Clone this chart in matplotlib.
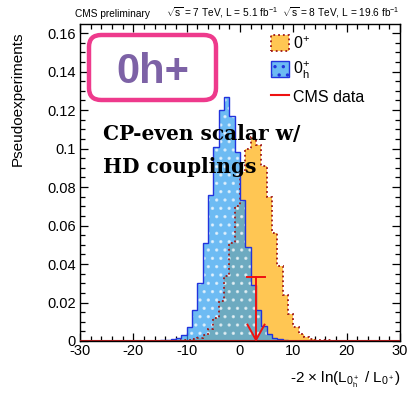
import numpy as np
import matplotlib
matplotlib.use("Agg")
import matplotlib.pyplot as plt
from matplotlib.patches import Patch, FancyBboxPatch
from matplotlib.lines import Line2D
from matplotlib.ticker import MultipleLocator, FixedLocator

plt.rcParams['font.family'] = ['Liberation Sans', 'DejaVu Sans']
plt.rcParams['axes.unicode_minus'] = False
plt.rcParams['mathtext.fontset'] = 'custom'
plt.rcParams['mathtext.rm'] = 'Liberation Sans'
plt.rcParams['mathtext.it'] = 'Liberation Sans'
plt.rcParams['hatch.linewidth'] = 1.2

# Datos
bin_w = 1.0
blue_start = -16.0   # 0+_h
blue_vals = [0.0002, 0.0003, 0.0005, 0.0008, 0.0015, 0.0033, 0.0075, 0.016,
             0.030, 0.051, 0.076, 0.101, 0.120, 0.127, 0.117, 0.098, 0.073,
             0.049, 0.029, 0.016, 0.008, 0.0038, 0.0017, 0.0008, 0.0004,
             0.0002, 0.0001]
orange_start = -13.0  # 0+
orange_vals = [0.0001, 0.0002, 0.0003, 0.0005, 0.0009, 0.0017, 0.0032, 0.0062,
               0.012, 0.021, 0.034, 0.051, 0.070, 0.088, 0.100, 0.106, 0.102,
               0.091, 0.075, 0.056, 0.039, 0.024, 0.014, 0.0075, 0.0038,
               0.0019, 0.0010, 0.0006, 0.0004, 0.0003, 0.0002, 0.0001]
data_obs = 3.0      # CMS data
data_top = 0.0333

x_range = (-30, 30)
y_max = 0.1647
y_ticks = [0, 0.02, 0.04, 0.06, 0.08, 0.1, 0.12, 0.14, 0.16]
y_ticklabels = ["0", "0.02", "0.04", "0.06", "0.08", "0.1", "0.12", "0.14", "0.16"]
x_ticks = [-30, -20, -10, 0, 10, 20, 30]
x_ticklabels = ["-30", "-20", "-10", "0", "10", "20", "30"]

c_orange = '#ffc653'
c_orange_edge = '#a01818'
c_blue = '#2f9fef'
c_blue_edge = '#2233dd'
c_red = '#ee1111'

W, H = 408, 394
def fx(x): return x / W
def fy(y): return 1 - y / H

fig = plt.figure(figsize=(W / 100, H / 100), dpi=100)
ax = fig.add_axes([fx(80), fy(341), (400 - 80) / W, (341 - 24) / H])

b_edges = blue_start + np.arange(len(blue_vals) + 1) * bin_w
o_edges = orange_start + np.arange(len(orange_vals) + 1) * bin_w

# 0+ (naranja)
ax.stairs(orange_vals, o_edges, fill=True, color=c_orange, lw=0, zorder=2)
ax.stairs(orange_vals, o_edges, color=c_orange_edge, lw=1.3, ls=':', zorder=4)
# 0+_h (azul, con puntos)
ax.stairs(blue_vals, b_edges, fill=True, color=c_blue, alpha=0.7, lw=0, zorder=3)
ax.stairs(blue_vals, b_edges, fill=True, facecolor='none', edgecolor='white',
          hatch='..', lw=0, alpha=0.6, zorder=3)
ax.stairs(blue_vals, b_edges, color=c_blue_edge, lw=1.0, zorder=4)
ax.axhline(0, color=c_orange_edge, lw=1.5, zorder=5)

# CMS data
ax.plot([data_obs, data_obs], [data_top, 0.0005], color=c_red, lw=1.4, zorder=6)
ax.plot([data_obs - 1.6, data_obs + 1.6], [data_top, data_top], color=c_red, lw=1.4, zorder=6)
ax.plot([data_obs - 1.6, data_obs, data_obs + 1.6], [0.0085, 0.0005, 0.0085],
        color=c_red, lw=1.4, zorder=6)

ax.set_xlim(*x_range)
ax.set_ylim(0, y_max)
ax.xaxis.set_major_locator(FixedLocator(x_ticks))
ax.set_xticklabels(x_ticklabels)
ax.xaxis.set_minor_locator(MultipleLocator(2))
ax.yaxis.set_major_locator(FixedLocator(y_ticks))
ax.set_yticklabels(y_ticklabels)
ax.yaxis.set_minor_locator(MultipleLocator(0.005))
ax.tick_params(which='both', direction='in', top=True, right=True, labelsize=10.5)
ax.tick_params(which='major', length=6, width=0.9)
ax.tick_params(which='minor', length=3.5, width=0.9)
ax.tick_params(axis='x', pad=2)
ax.tick_params(axis='y', pad=3)
for s in ax.spines.values():
    s.set_linewidth(1.0)

# Textos
fig.text(fx(18), fy(32), 'Pseudoexperiments', rotation=90, ha='center', va='top', fontsize=11)
fig.text(fx(401), fy(383), r'-2 $\times$ ln(L$_{0^+_h}$ / L$_{0^+}$)', ha='right',
         va='baseline', fontsize=11)
fig.text(fx(75), fy(17), 'CMS preliminary', fontsize=7.3, va='baseline')
fig.text(fx(400), fy(17), r'$\sqrt{s}$ = 7 TeV, L = 5.1 fb$^{-1}$  $\sqrt{s}$ = 8 TeV, L = 19.6 fb$^{-1}$',
         fontsize=7.3, va='baseline', ha='right')

handles = [Patch(facecolor=c_orange, edgecolor=c_orange_edge, ls=':', lw=1.3),
           Patch(facecolor='#6cbaf3', edgecolor=c_blue_edge, hatch='..', lw=1.0),
           Line2D([0], [0], color=c_red, lw=1.5)]
labels = [r'$0^{+}$', r'$0^{+}_{h}$', 'CMS data']
fig.legend(handles, labels, loc='upper left', bbox_to_anchor=(fx(271), fy(35)),
           frameon=False, fontsize=11.5, handlelength=1.15, handleheight=1.15,
           handletextpad=0.25, labelspacing=0.5, borderpad=0, borderaxespad=0)

box = FancyBboxPatch((fx(89), fy(100)), (216 - 89) / W, (100 - 35) / H,
                     boxstyle='round,pad=0,rounding_size=0.03', transform=fig.transFigure,
                     facecolor='white', edgecolor='#ee3a8c', lw=3.2, zorder=10)
fig.add_artist(box)
fig.text(fx(153), fy(83), '0h+', ha='center', va='baseline', fontsize=30,
         fontweight='bold', color='#7d62a6', zorder=11)

fig.text(fx(103), fy(140), 'CP-even scalar w/', fontsize=14.5, fontweight='bold',
         family='DejaVu Serif', va='baseline', zorder=11)
fig.text(fx(103), fy(173), 'HD couplings', fontsize=14.5, fontweight='bold',
         family='DejaVu Serif', va='baseline', zorder=11)

fig.savefig('out.png', dpi=100)
